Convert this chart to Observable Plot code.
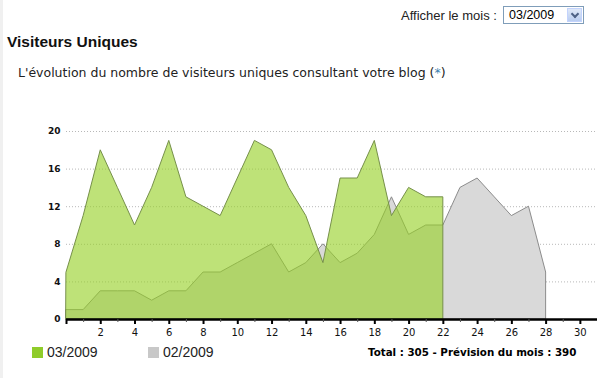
<!DOCTYPE html>
<html>
<head>
<meta charset="utf-8">
<script src="https://cdn.jsdelivr.net/npm/d3@7"></script>
<script src="https://cdn.jsdelivr.net/npm/@observablehq/plot@0.6"></script>
<style>
  html, body { margin: 0; padding: 0; background: #fff; }
  body { width: 609px; height: 378px; position: relative; overflow: hidden; font-family: "Liberation Sans", Arial, sans-serif; }
  .edge { position: absolute; left: 0; top: 0; width: 3px; height: 378px; background: #f0f0f0; }
  .sel-label { position: absolute; left: 401px; top: 8px; font-size: 13px; color: #222; }
  .sel { position: absolute; left: 503px; top: 6px; width: 81px; height: 18px; border: 1px solid #7f9db9; background: #fff; box-sizing: border-box; }
  .sel span { position: absolute; left: 5px; top: 1px; font-size: 12.5px; color: #000; }
  .sel .btn { position: absolute; right: 1px; top: 1px; width: 15px; height: 14px; background: linear-gradient(#dfe8f7, #b9cdf0); border: 1px solid #c3d3fd; box-sizing: border-box; }
  .sel .btn:after { content: ""; position: absolute; left: 4px; top: 2px; width: 4px; height: 4px; border-right: 2px solid #4d6185; border-bottom: 2px solid #4d6185; transform: rotate(45deg); }
  h1 { position: absolute; left: 7px; top: 33px; margin: 0; font-size: 15.5px; font-weight: bold; color: #111; }
  .sub { position: absolute; left: 18px; top: 65px; color: #222; font-family: "DejaVu Sans", sans-serif; font-size: 12.5px; }
  .sub .ast { color: #3a7fb0; }
  #chart { position: absolute; left: 0; top: 120px; }
  .leg { position: absolute; top: 344px; font-size: 14px; color: #222; }
  .leg i { display: inline-block; width: 11px; height: 11px; vertical-align: -1px; margin-right: 4px; }
  .total { position: absolute; left: 368px; top: 346px; font-size: 10.3px; font-weight: bold; color: #000; font-family: "DejaVu Sans", Verdana, sans-serif; }
</style>
</head>
<body>
<div class="edge"></div>
<div class="sel-label">Afficher le mois :</div>
<div class="sel"><span>03/2009</span><div class="btn"></div></div>
<h1>Visiteurs Uniques</h1>
<div class="sub">L'évolution du nombre de visiteurs uniques consultant votre blog (<span class="ast">*</span>)</div>
<div id="chart"></div>
<div class="leg" style="left:32px"><i style="background:#8fcc2a"></i>03/2009</div>
<div class="leg" style="left:148px"><i style="background:#c8c8c8"></i>02/2009</div>
<div class="total">Total : 305 - Prévision du mois : 390</div>
<script>
const seriesNames = ["03/2009", "02/2009"];
const march = [5, 11, 18, 14, 10, 14, 19, 13, 12, 11, 15, 19, 18, 14, 11, 6, 15, 15, 19, 11, 14, 13, 13];
const february = [1, 1, 3, 3, 3, 2, 3, 3, 5, 5, 6, 7, 8, 5, 6, 8, 6, 7, 9, 13, 9, 10, 10, 14, 15, 13, 11, 12, 5];
const yTicks = [0, 4, 8, 12, 16, 20];
const xMajorTicks = d3.range(0, 31, 2);
const xMinorTicks = d3.range(1, 31, 2);

const marchData = march.map((v, i) => ({day: i, v}));
const febData = february.map((v, i) => ({day: i, v}));

const chart = Plot.plot({
  width: 609,
  height: 230,
  marginLeft: 66,
  marginRight: 12,
  marginTop: 11,
  marginBottom: 31,
  x: {domain: [0, 31]},
  y: {domain: [0, 20]},
  style: {background: "transparent"},
  marks: [
    Plot.gridY(yTicks.filter(d => d > 0), {stroke: "#b8b8b8", strokeOpacity: 1, strokeDasharray: "1,2"}),
    Plot.areaY(febData, {x: "day", y: "v", fill: "#d9d9d9", stroke: "#8c8c8c", strokeWidth: 1}),
    Plot.areaY(marchData, {x: "day", y: "v", fill: "rgb(150,208,37)", fillOpacity: 0.62, stroke: "#76904a", strokeWidth: 1}),
    Plot.ruleY([0], {stroke: "#000", strokeWidth: 2.5}),
    Plot.axisX({ticks: xMajorTicks, tickSize: 5, tickPadding: 4, tickFormat: d => d === 0 ? "" : d, fontSize: 10, fontFamily: "DejaVu Sans", stroke: "#000", strokeWidth: 2, label: null, color: "#111"}),
    Plot.axisX({ticks: xMinorTicks, tickSize: 3, tickFormat: () => "", stroke: "#555", label: null}),
    Plot.axisY({ticks: yTicks, tickSize: 0, tickPadding: 6, fontSize: 9, fontWeight: "bold", fontFamily: "DejaVu Sans", label: null, color: "#111"})
  ]
});
document.getElementById("chart").appendChild(chart);
</script>
</body>
</html>
